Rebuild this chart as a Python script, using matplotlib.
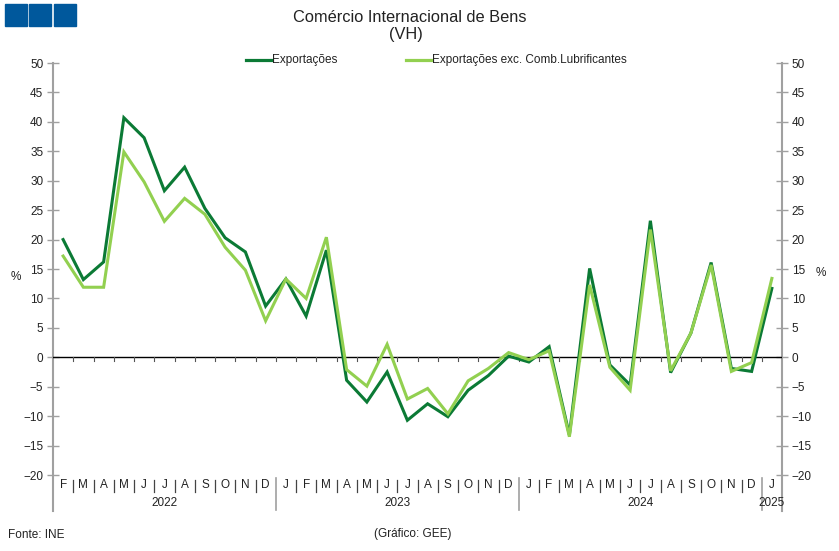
import numpy as np
import matplotlib.pyplot as plt
from matplotlib.lines import Line2D
from matplotlib.patches import Rectangle

plt.rcParams['font.family'] = ['Liberation Sans', 'DejaVu Sans']

# monthly labels, Feb 2022 .. Jan 2025
months = ['F', 'M', 'A', 'M', 'J', 'J', 'A', 'S', 'O', 'N', 'D',
          'J', 'F', 'M', 'A', 'M', 'J', 'J', 'A', 'S', 'O', 'N', 'D',
          'J', 'F', 'M', 'A', 'M', 'J', 'J', 'A', 'S', 'O', 'N', 'D',
          'J']
years = ['2022', '2023', '2024', '2025']
year_start = [0, 11, 23, 35]   # first index of each year
year_end = [10, 22, 34, 35]

exportacoes = [20.0, 13.2, 16.2, 40.7, 37.3, 28.3, 32.3, 25.3, 20.3, 17.9, 8.7,
               13.3, 7.0, 18.2, -3.9, -7.6, -2.5, -10.7, -7.9, -10.1, -5.6, -3.1, 0.2,
               -0.8, 1.8, -13.2, 15.1, -1.3, -4.7, 23.2, -2.6, 4.1, 16.1, -1.9, -2.4,
               11.7]
export_exc = [17.2, 11.9, 11.9, 34.9, 29.8, 23.1, 27.0, 24.3, 18.7, 14.8, 6.2,
              13.3, 10.0, 20.4, -2.1, -4.9, 2.2, -7.1, -5.3, -9.6, -4.0, -1.9, 0.8,
              -0.4, 1.1, -13.5, 12.3, -1.7, -5.6, 21.7, -2.3, 4.1, 15.7, -2.4, -0.9,
              13.4]

dark = '#0b7a35'
light = '#92d050'
axis_gray = '#a0a0a0'

W, H = 839, 551
fig = plt.figure(figsize=(W / 100, H / 100), dpi=100)
ax = fig.add_axes([53 / W, 1 - 475 / H, (782 - 53) / W, (475 - 63) / H])

x = np.arange(len(months))
ax.plot(x, exportacoes, color=dark, lw=2.2, solid_joinstyle='miter', zorder=3)
ax.plot(x, export_exc, color=light, lw=2.2, solid_joinstyle='miter', zorder=4)

ax.set_xlim(-0.5, len(months) - 0.5)
ax.set_ylim(-20, 50)
ax.set_yticks(np.arange(-20, 51, 5))

for s in ax.spines.values():
    s.set_visible(False)
ax.set_xticks([])
ax.tick_params(axis='y', direction='inout', length=8, width=1, color=axis_gray,
               labelsize=8.5, labelcolor='#222', left=True, right=True,
               labelleft=True, labelright=True, pad=3)

# zero line with small ticks at category boundaries
ax.axhline(0, color='black', lw=1, zorder=2)
for b in np.arange(0.5, len(months) - 0.5, 1):
    ax.plot([b, b], [0, -0.55], color='#555', lw=0.8, zorder=2)

# vertical axis lines, extended below the plot area
for xa in (-0.5, len(months) - 0.5):
    ax.plot([xa, xa], [50, -26.1], color=axis_gray, lw=1.5, clip_on=False, zorder=1)

# month labels and separators
for i, m in enumerate(months):
    ax.text(i, -21.75, m, ha='center', va='center', fontsize=8.5, color='#222',
            clip_on=False)
for b in np.arange(0.5, len(months) - 0.5, 1):
    if b in (10.5, 22.5, 34.5):
        ax.plot([b, b], [-20.5, -26.0], color=axis_gray, lw=1.2, clip_on=False)
    else:
        ax.plot([b, b], [-20.8, -22.9], color='#444', lw=0.9, clip_on=False)
for yr, a, e in zip(years, year_start, year_end):
    ax.text((a + e) / 2, -24.8, yr, ha='center', va='center', fontsize=8.5,
            color='#222', clip_on=False)

# titles and notes
fig.text(410 / W, 1 - 17 / H, 'Comércio Internacional de Bens', ha='center',
         va='center', fontsize=11.8, color='#222')
fig.text(406 / W, 1 - 34 / H, '(VH)', ha='center', va='center', fontsize=11.8,
         color='#222')
fig.text(16 / W, 1 - 277 / H, '%', ha='center', va='center', fontsize=8.5, color='#222')
fig.text(821 / W, 1 - 273 / H, '%', ha='center', va='center', fontsize=8.5, color='#222')
fig.text(8 / W, 1 - 535 / H, 'Fonte: INE', ha='left', va='center', fontsize=8.5,
         color='#222')
fig.text(413 / W, 1 - 534 / H, '(Gráfico: GEE)', ha='center', va='center',
         fontsize=8.5, color='#222')

# legend
for (x0, x1, tx, lab, c) in [(246, 271, 272, 'Exportações', dark),
                             (406, 431, 432, 'Exportações exc. Comb.Lubrificantes', light)]:
    fig.add_artist(Line2D([x0 / W, x1 / W], [1 - 60 / H, 1 - 60 / H], color=c, lw=2.3,
                          transform=fig.transFigure))
    fig.text(tx / W, 1 - 60 / H, lab, ha='left', va='center', fontsize=8.5, color='#222')

# logo squares
for lx in (4.5, 29, 54):
    fig.add_artist(Rectangle((lx / W, 1 - 26 / H), 22 / W, 21.5 / H, color='#00589c',
                             transform=fig.transFigure))

fig.savefig('out.png', dpi=100)
